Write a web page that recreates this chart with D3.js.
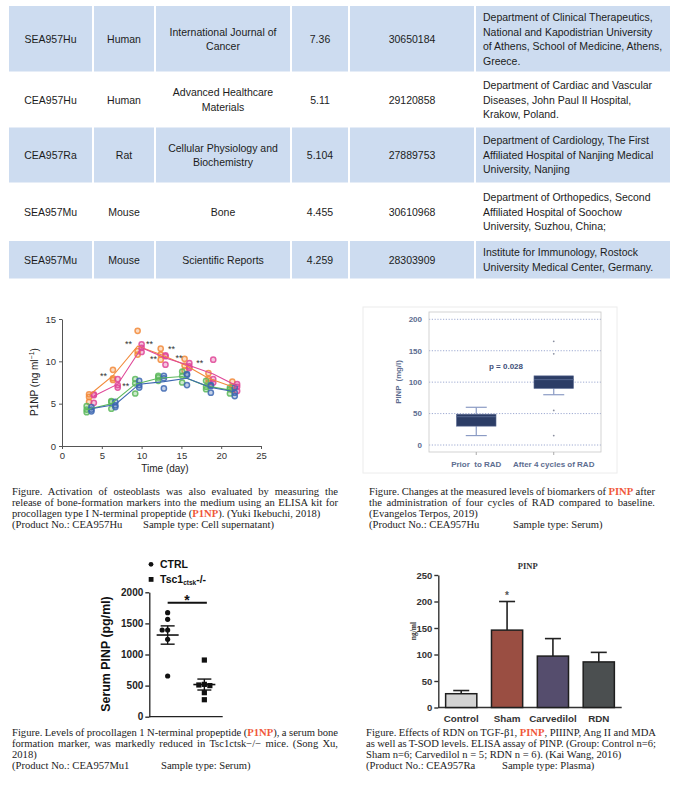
<!DOCTYPE html>
<html>
<head>
<meta charset="utf-8">
<script src="https://cdn.jsdelivr.net/npm/d3@7"></script>
<style>
  body { margin: 0; background: #fff; }
  svg { display: block; }
</style>
</head>
<body>
<svg id="page" width="675" height="797"></svg>
<script>
// ---------------- DATA ----------------
// citation table
const catalogNos = ["SEA957Hu", "CEA957Hu", "CEA957Ra", "SEA957Mu", "SEA957Mu"];
const species = ["Human", "Human", "Rat", "Mouse", "Mouse"];
const journals = [["International Journal of", "Cancer"], ["Advanced Healthcare", "Materials"],
  ["Cellular Physiology and", "Biochemistry"], ["Bone"], ["Scientific Reports"]];
const impactFactors = ["7.36", "5.11", "5.104", "4.455", "4.259"];
const pmids = ["30650184", "29120858", "27889753", "30610968", "28303909"];
const affiliations = [
  ["Department of Clinical Therapeutics,", "National and Kapodistrian University", "of Athens, School of Medicine, Athens,", "Greece."],
  ["Department of Cardiac and Vascular", "Diseases, John Paul II Hospital,", "Krakow, Poland."],
  ["Department of Cardiology, The First", "Affiliated Hospital of Nanjing Medical", "University, Nanjing"],
  ["Department of Orthopedics, Second", "Affiliated Hospital of Soochow", "University, Suzhou, China;"],
  ["Institute for Immunology, Rostock", "University Medical Center, Germany."]
];

// chart 1 : P1NP over time, 4 groups (3 replicates each)
const timeTicks = [0, 5, 10, 15, 20, 25];
const p1Ticks = [0, 5, 10, 15];
const orangeDays = [3.4, 6.4, 9.5, 12.4, 15.4, 18.4, 21.4];
const orangeMeans = [6.0, 8.3, 11.8, 10.8, 9.6, 8.0, 7.0];
const orangeReps = [[6.1, 5.8, 5.2], [9.0, 8.0, 7.8], [13.6, 11.2, 10.8], [11.5, 10.8, 10.2], [10.3, 9.5, 8.9], [8.6, 7.9, 7.5], [7.6, 7.0, 6.6]];
const pinkDays = [4.0, 7.0, 10.0, 13.0, 16.0, 19.0, 22.0];
const pinkMeans = [5.9, 7.3, 11.6, 10.4, 9.5, 8.5, 7.1];
const pinkReps = [[6.1, 6.0, 5.1], [7.9, 7.2, 6.9], [12.0, 11.6, 11.1], [10.7, 10.6, 9.6], [9.8, 9.4, 9.2], [10.2, 7.9, 7.5], [7.3, 7.0, 6.5]];
const greenDays = [3.1, 6.2, 9.2, 12.1, 15.1, 18.1, 21.1];
const greenMeans = [4.3, 5.0, 7.3, 8.0, 8.2, 7.1, 6.6];
const greenReps = [[4.7, 4.3, 4.0], [5.3, 5.2, 4.4], [7.9, 7.4, 6.2], [8.3, 8.1, 7.7], [8.8, 8.3, 7.5], [7.7, 7.0, 6.7], [6.9, 6.7, 6.2]];
const blueDays = [3.7, 6.7, 9.7, 12.8, 15.7, 18.7, 21.7];
const blueMeans = [4.4, 4.9, 7.3, 7.6, 8.0, 6.9, 6.4];
const blueReps = [[4.6, 4.3, 4.1], [5.2, 4.8, 4.6], [7.7, 7.2, 6.9], [8.3, 8.0, 6.8], [8.5, 8.4, 7.2], [7.2, 7.1, 6.3], [6.9, 6.3, 5.9]];
const sigDays = [5.2, 8.0, 8.35, 11.0, 11.5, 13.75, 14.7, 17.3];
const sigLevels = [8.5, 7.3, 12.2, 12.2, 10.5, 11.6, 10.55, 10.0];

// chart 2 : box plot before / after RAD
const radGroups = ["Prior  to RAD", "After 4 cycles of RAD"];
const radTicks = [0, 50, 100, 150, 200];
const radLow = [15, 80];
const radQ1 = [30, 90];
const radMedian = [45, 104];
const radQ3 = [49, 110];
const radHigh = [60, 110];
const radOutliers = [[], [165, 145, 55, 15]];
const radPText = "p = 0.028";
const radPLevel = 126;

// chart 3 : CTRL vs Tsc1 knockout
const koGroups = ["CTRL", "Tsc1"];
const koTicks = [0, 500, 1000, 1500, 2000];
const ctrlValues = [1672, 1566, 1394, 1394, 1244, 654];
const tscValues = [911, 520, 510, 500, 386, 273];
const koMeans = [1313, 517];
const koSem = [147, 88];

// chart 4 : PINP bars
const barGroups = ["Control", "Sham", "Carvedilol", "RDN"];
const barTicks = [0, 50, 100, 150, 200, 250];
const barMeans = [26, 146, 97, 86];
const barErrors = [6, 54, 33, 18];

// captions
const caption1 = [
  "Figure. Activation of osteoblasts was also evaluated by measuring the",
  "release of bone-formation markers into the medium using an ELISA kit for",
  "procollagen type I N-terminal propeptide ([[P1NP]]). (Yuki Ikebuchi, 2018)",
  "(Product No.: CEA957Hu\tSample type: Cell supernatant)"
];
const caption2 = [
  "Figure. Changes at the measured levels of biomarkers of [[PINP]] after",
  "the administration of four cycles of RAD compared to baseline.",
  "(Evangelos Terpos, 2019)",
  "(Product No.: CEA957Hu\tSample type: Serum)"
];
const caption3 = [
  "Figure. Levels of procollagen 1 N-terminal propeptide ([[P1NP]]), a serum bone",
  "formation marker, was markedly reduced in Tsc1ctsk−/− mice. (Song Xu,",
  "2018)",
  "(Product No.: CEA957Mu1\tSample type: Serum)"
];
const caption4 = [
  "Figure. Effects of RDN on TGF-β1, [[PINP]], PIIINP, Ang II and MDA",
  "as well as T-SOD levels. ELISA assay of PINP. (Group: Control n=6;",
  "Sham n=6; Carvedilol n = 5; RDN n = 6). (Kai Wang, 2016)",
  "(Product No.: CEA957Ra\tSample type: Plasma)"
];

// ---------------- DRAWING ----------------
const SANS = "'Liberation Sans', Arial, sans-serif";
const SERIF = "'Liberation Serif', 'Times New Roman', serif";
const svg = d3.select("#page");
svg.append("rect").attr("width", 675).attr("height", 797).attr("fill", "#fff");

// ---- table ----
const colEdges = [8, 93, 155, 291, 349, 475, 671];
const rowEdges = [6, 72.5, 127, 183, 240.5, 279];
const tbl = svg.append("g").style("font-family", SANS).style("font-size", "10.5px").attr("fill", "#1c1c1c");
const lh = 14.6;
for (let i = 0; i < catalogNos.length; i++) {
  const y0 = rowEdges[i], y1 = rowEdges[i + 1];
  const cy = (y0 + y1) / 2;
  const cells = [[catalogNos[i]], [species[i]], journals[i], [impactFactors[i]], [pmids[i]], affiliations[i]];
  cells.forEach((lines, j) => {
    const x0 = colEdges[j] + 1, x1 = colEdges[j + 1] - 1;
    if (i % 2 === 0) {
      tbl.append("rect").attr("x", x0).attr("y", y0 + (i ? 0.5 : 0)).attr("width", x1 - x0)
        .attr("height", y1 - y0 - 1).attr("fill", "#cddcf0");
    }
    const t = tbl.append("text")
      .attr("text-anchor", j < 5 ? "middle" : "start");
    lines.forEach((s, k) => {
      t.append("tspan")
        .attr("x", j < 5 ? (x0 + x1) / 2 : 483)
        .attr("y", cy - (lines.length - 1) * lh / 2 + 3.8 + k * lh)
        .text(s);
    });
  });
}

// ---- chart 1 : line chart ----
(function () {
  const g = svg.append("g").style("font-family", SANS);
  const x = d3.scaleLinear().domain([0, 25]).range([62, 261]);
  const y = d3.scaleLinear().domain([0, 15]).range([446, 319]);
  const xa = g.append("g").attr("transform", "translate(0,446)")
    .call(d3.axisBottom(x).tickValues(timeTicks).tickSize(3).tickSizeOuter(0).tickPadding(3));
  const ya = g.append("g").attr("transform", "translate(62,0)")
    .call(d3.axisLeft(y).tickValues(p1Ticks).tickSize(3).tickSizeOuter(0).tickPadding(3));
  [xa, ya].forEach(a => {
    a.selectAll("path,line").attr("stroke", "#555");
    a.selectAll("text").attr("fill", "#333").style("font-size", "9.5px");
  });
  g.append("text").attr("x", 165).attr("y", 472).attr("text-anchor", "middle")
    .style("font-size", "10px").attr("fill", "#222").text("Time (day)");
  const yl = g.append("text").attr("transform", "translate(38,382) rotate(-90)")
    .attr("text-anchor", "middle").style("font-size", "10px").attr("fill", "#222");
  yl.append("tspan").text("P1NP (ng ml");
  yl.append("tspan").attr("dy", -4).style("font-size", "7px").text("−1");
  yl.append("tspan").attr("dy", 4).text(")");

  const series = [
    { days: orangeDays, means: orangeMeans, reps: orangeReps, color: "#f28a3a" },
    { days: pinkDays, means: pinkMeans, reps: pinkReps, color: "#df4797" },
    { days: greenDays, means: greenMeans, reps: greenReps, color: "#5cb85c" },
    { days: blueDays, means: blueMeans, reps: blueReps, color: "#3d67b1" }
  ];
  const line = d3.line().x(d => x(d[0])).y(d => y(d[1]));
  series.forEach(s => {
    const pts = [];
    s.days.forEach((d, i) => s.reps[i].forEach(v => pts.push([d, v])));
    g.append("g").selectAll("circle").data(pts).join("circle")
      .attr("cx", d => x(d[0])).attr("cy", d => y(d[1])).attr("r", 2.6)
      .attr("fill", s.color).attr("fill-opacity", 0.3)
      .attr("stroke", s.color).attr("stroke-width", 1.5).attr("stroke-opacity", 0.85);
  });
  series.forEach(s => {
    g.append("path").datum(s.days.map((d, i) => [d, s.means[i]]))
      .attr("d", line).attr("fill", "none").attr("stroke", s.color).attr("stroke-width", 1.1);
  });
  g.append("g").selectAll("text").data(sigDays).join("text")
    .attr("x", d => x(d)).attr("y", (d, i) => y(sigLevels[i]) + 4.5)
    .attr("text-anchor", "middle").style("font-size", "9px").attr("fill", "#333")
    .text("**");
})();

// ---- chart 2 : box plot ----
(function () {
  const g = svg.append("g").style("font-family", SANS).style("font-weight", "bold");
  const fx0 = 429, fx1 = 601, fy0 = 312, fy1 = 452;
  const y = d3.scaleLinear().domain([0, 200]).range([445, 319.3]);
  const x = d3.scalePoint().domain(radGroups).range([fx0, fx1]).padding(0.61);
  const txt = "#5d6d90";
  g.append("rect").attr("x", 363).attr("y", 307).attr("width", 254).attr("height", 166)
    .attr("fill", "none").attr("stroke", "#ececec");
  g.append("g").selectAll("line").data(radTicks).join("line")
    .attr("x1", fx0).attr("x2", fx1).attr("y1", d => y(d)).attr("y2", d => y(d))
    .attr("stroke", "#8796c6").attr("stroke-width", 0.8).attr("stroke-dasharray", "1.2,1.6");
  g.append("rect").attr("x", fx0).attr("y", fy0).attr("width", fx1 - fx0).attr("height", fy1 - fy0)
    .attr("fill", "none").attr("stroke", "#c9c9c9").attr("stroke-width", 0.8);
  g.append("g").selectAll("text").data(radTicks).join("text")
    .attr("x", 422).attr("y", d => y(d) + 2.8).attr("text-anchor", "end")
    .style("font-size", "8px").attr("fill", txt).text(d => d);
  g.append("g").selectAll("line").data(radGroups).join("line")
    .attr("x1", d => x(d)).attr("x2", d => x(d)).attr("y1", fy1).attr("y2", fy1 + 3)
    .attr("stroke", "#aaa");
  g.append("g").selectAll("text").data(radGroups).join("text")
    .attr("x", d => x(d)).attr("y", 467).attr("text-anchor", "middle")
    .style("font-size", "8px").attr("fill", txt).style("white-space", "pre").text(d => d);
  g.append("text").attr("transform", "translate(401,382) rotate(-90)").attr("text-anchor", "middle")
    .style("font-size", "7.8px").attr("fill", txt).style("white-space", "pre").text("PINP  (mg/l)");
  g.append("text").attr("x", 506).attr("y", y(radPLevel) + 2.8).attr("text-anchor", "middle")
    .style("font-size", "8px").attr("fill", "#3e4e78").text(radPText);
  radGroups.forEach((k, i) => {
    const cx = x(k), bw = 39.5, cw = 21;
    g.append("line").attr("x1", cx).attr("x2", cx).attr("y1", y(radLow[i])).attr("y2", y(radQ1[i]))
      .attr("stroke", "#8b9bc4").attr("stroke-width", 1.2);
    g.append("line").attr("x1", cx).attr("x2", cx).attr("y1", y(radHigh[i])).attr("y2", y(radQ3[i]))
      .attr("stroke", "#8b9bc4").attr("stroke-width", 1.2);
    [radLow[i], radHigh[i]].forEach(v => {
      if (v === radQ3[i]) return;
      g.append("line").attr("x1", cx - cw / 2).attr("x2", cx + cw / 2).attr("y1", y(v)).attr("y2", y(v))
        .attr("stroke", "#8b9bc4").attr("stroke-width", 1.2);
    });
    g.append("rect").attr("x", cx - bw / 2).attr("y", y(radQ3[i])).attr("width", bw)
      .attr("height", y(radQ1[i]) - y(radQ3[i])).attr("fill", "#2c3d66").attr("stroke", "#5a6a92").attr("stroke-width", 0.6);
    g.append("line").attr("x1", cx - bw / 2).attr("x2", cx + bw / 2)
      .attr("y1", y(radMedian[i])).attr("y2", y(radMedian[i])).attr("stroke", "#55668f").attr("stroke-width", 1);
    g.append("g").selectAll("circle").data(radOutliers[i]).join("circle")
      .attr("cx", cx).attr("cy", d => y(d)).attr("r", 0.9).attr("fill", "#8a8fa0");
  });
})();

// ---- chart 3 : dot plot ----
(function () {
  const g = svg.append("g").style("font-family", SANS).style("font-weight", "bold");
  const y = d3.scaleLinear().domain([0, 2000]).range([716.7, 592.3]);
  const x = d3.scalePoint().domain(koGroups).range([149.3, 222.7]).padding(0.5);
  const ya = g.append("g").attr("transform", "translate(149.3,0)")
    .call(d3.axisLeft(y).tickValues(koTicks).tickSize(4).tickSizeOuter(0).tickPadding(2).tickFormat(d3.format("d")));
  ya.selectAll("path,line").attr("stroke", "#222").attr("stroke-width", 1.3);
  ya.selectAll("text").attr("fill", "#222").style("font-size", "10px").style("font-family", SANS);
  g.append("line").attr("x1", 149.3).attr("x2", 222.7).attr("y1", 716.7).attr("y2", 716.7)
    .attr("stroke", "#222").attr("stroke-width", 1.3);
  g.append("text").attr("transform", "translate(109.5,654) rotate(-90)").attr("text-anchor", "middle")
    .style("font-size", "12.4px").attr("fill", "#111").text("Serum PINP (pg/ml)");

  // simple horizontal dodge so close values sit side by side
  function dodge(vals, cx, step) {
    const placed = [];
    return vals.map(v => {
      const py = y(v);
      let off = 0;
      for (let k = 0; k < 9; k++) {
        const o = (k % 2 ? -1 : 1) * Math.ceil(k / 2) * step;
        if (placed.every(p => Math.hypot(p[0] - (cx + o), p[1] - py) >= 5.4)) { off = o; break; }
      }
      placed.push([cx + off, py]);
      return [cx + off, py];
    });
  }
  const ctrlPts = dodge(ctrlValues, x("CTRL"), 5.5);
  const tscPts = dodge(tscValues, x("Tsc1"), 5.5);
  g.append("g").selectAll("circle").data(ctrlPts).join("circle")
    .attr("cx", d => d[0]).attr("cy", d => d[1]).attr("r", 2.6).attr("fill", "#111");
  g.append("g").selectAll("rect").data(tscPts).join("rect")
    .attr("x", d => d[0] - 2.6).attr("y", d => d[1] - 2.6).attr("width", 5.2).attr("height", 5.2).attr("fill", "#111");

  koGroups.forEach((k, i) => {
    const cx = x(k);
    g.append("line").attr("x1", cx - 11).attr("x2", cx + 11).attr("y1", y(koMeans[i])).attr("y2", y(koMeans[i]))
      .attr("stroke", "#111").attr("stroke-width", 1.6);
    g.append("line").attr("x1", cx).attr("x2", cx).attr("y1", y(koMeans[i] - koSem[i])).attr("y2", y(koMeans[i] + koSem[i]))
      .attr("stroke", "#111").attr("stroke-width", 1.4);
    [koMeans[i] - koSem[i], koMeans[i] + koSem[i]].forEach(v => {
      g.append("line").attr("x1", cx - 7).attr("x2", cx + 7).attr("y1", y(v)).attr("y2", y(v))
        .attr("stroke", "#111").attr("stroke-width", 1.4);
    });
  });
  g.append("line").attr("x1", x("CTRL")).attr("x2", x("Tsc1") + 2.5).attr("y1", 602.7).attr("y2", 602.7)
    .attr("stroke", "#111").attr("stroke-width", 2);
  g.append("text").attr("x", (x("CTRL") + x("Tsc1")) / 2 + 1).attr("y", 605).attr("text-anchor", "middle")
    .style("font-size", "14px").attr("fill", "#111").text("*");

  // legend
  g.append("circle").attr("cx", 151).attr("cy", 564.3).attr("r", 2.4).attr("fill", "#111");
  g.append("text").attr("x", 160).attr("y", 568).style("font-size", "10.5px").attr("fill", "#111").text("CTRL");
  g.append("rect").attr("x", 148.7).attr("y", 577).attr("width", 4.8).attr("height", 4.8).attr("fill", "#111");
  const lt = g.append("text").attr("x", 160).attr("y", 583).style("font-size", "10.5px").attr("fill", "#111");
  lt.append("tspan").text("Tsc1");
  lt.append("tspan").attr("dy", 1.5).style("font-size", "6.5px").text("ctsk");
  lt.append("tspan").attr("dy", -1.5).text("-/-");
})();

// ---- chart 4 : bar chart ----
(function () {
  const g = svg.append("g").style("font-family", SANS).style("font-weight", "bold");
  const y = d3.scaleLinear().domain([0, 250]).range([707.5, 575]);
  const x = d3.scaleBand().domain(barGroups).range([438.3, 621.7]).paddingInner(0.32).paddingOuter(0.16);
  const colors = ["#d3d3d3", "#9a4e42", "#554d6d", "#4b4f50"];
  const ya = g.append("g").attr("transform", "translate(438.3,0)")
    .call(d3.axisLeft(y).tickValues(barTicks).tickSize(4).tickSizeOuter(0).tickPadding(2));
  ya.selectAll("path,line").attr("stroke", "#333").attr("stroke-width", 1.4);
  ya.selectAll("text").attr("fill", "#333").style("font-size", "9.5px").style("font-family", SANS);
  g.append("line").attr("x1", 438.3).attr("x2", 621.7).attr("y1", 707.5).attr("y2", 707.5)
    .attr("stroke", "#333").attr("stroke-width", 1.4);
  g.append("g").selectAll("text").data(barGroups).join("text")
    .attr("x", d => x(d) + x.bandwidth() / 2).attr("y", 722).attr("text-anchor", "middle")
    .style("font-size", "9.8px").attr("fill", "#333").text(d => d);
  g.append("text").attr("x", 527.7).attr("y", 568.5).attr("text-anchor", "middle")
    .style("font-family", SERIF).style("font-size", "8.5px").attr("fill", "#333").text("PINP");
  g.append("text").attr("transform", "translate(415.5,631) rotate(-90)").attr("text-anchor", "middle")
    .style("font-family", SERIF).style("font-size", "7.5px").attr("fill", "#333").text("ng/ml");

  barGroups.forEach((k, i) => {
    const bx = x(k), bw = x.bandwidth(), cx = bx + bw / 2;
    g.append("line").attr("x1", cx).attr("x2", cx).attr("y1", y(barMeans[i])).attr("y2", y(barMeans[i] + barErrors[i]))
      .attr("stroke", "#222").attr("stroke-width", 1.6);
    g.append("line").attr("x1", cx - 8).attr("x2", cx + 8)
      .attr("y1", y(barMeans[i] + barErrors[i])).attr("y2", y(barMeans[i] + barErrors[i]))
      .attr("stroke", "#222").attr("stroke-width", 1.6);
    g.append("rect").attr("x", bx).attr("y", y(barMeans[i])).attr("width", bw)
      .attr("height", y(0) - y(barMeans[i])).attr("fill", colors[i]).attr("stroke", "#1e1e1e").attr("stroke-width", 1.5);
  });
  g.append("text").attr("x", x("Sham") + x.bandwidth() / 2).attr("y", 599).attr("text-anchor", "middle")
    .style("font-size", "10px").attr("fill", "#555").text("*");
})();

// ---- captions ----
function drawCaption(lines, x, y0, width, justified, tabX) {
  const g = svg.append("g").style("font-family", SERIF).style("font-size", "10.6px").attr("fill", "#222");
  lines.forEach((ln, i) => {
    const [a, b] = ln.split("\t");
    const t = g.append("text").attr("x", x).attr("y", y0 + i * 11.1).style("white-space", "pre");
    a.split(/(\[\[.*?\]\])/).forEach(seg => {
      if (!seg) return;
      const m = seg.match(/^\[\[(.*)\]\]$/);
      const ts = t.append("tspan").text(m ? m[1] : seg);
      if (m) ts.attr("fill", "#f0583a").style("font-weight", "bold");
    });
    if (i < justified) {
      const len = t.node().getComputedTextLength();
      const n = (a.match(/ /g) || []).length;
      if (n) t.style("word-spacing", ((width - len) / n) + "px");
    }
    if (b) g.append("text").attr("x", tabX).attr("y", y0 + i * 11.1).text(b);
  });
}
drawCaption(caption1, 12, 494.5, 326, 2, 143);
drawCaption(caption2, 369, 494.5, 286, 2, 513);
drawCaption(caption3, 12, 735.5, 326, 2, 161);
drawCaption(caption4, 366, 735.5, 290, 2, 502);
</script>
</body>
</html>
